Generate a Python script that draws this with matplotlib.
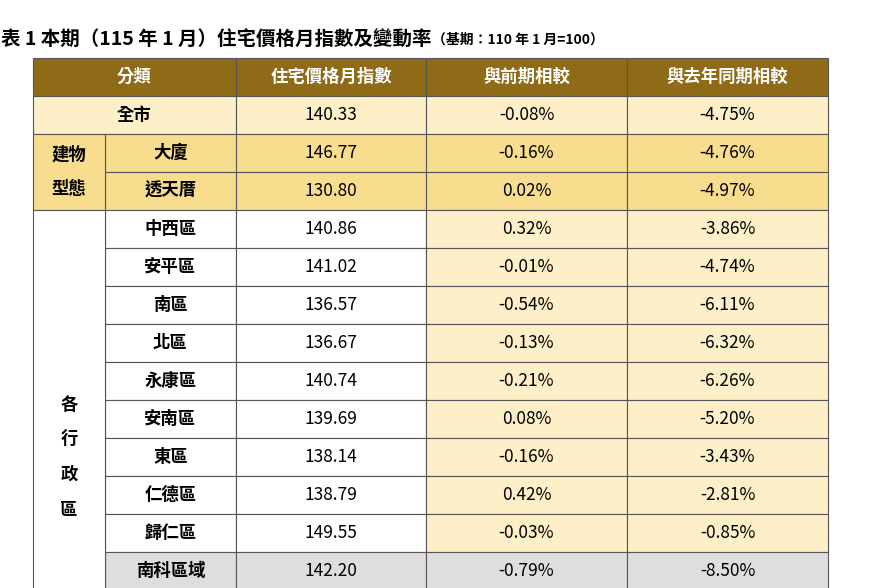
import matplotlib.pyplot as plt
from matplotlib.patches import Rectangle

plt.rcParams['font.family'] = ['Noto Sans CJK TC', 'DejaVu Sans']

title = "表 1 本期（115 年 1 月）住宅價格月指數及變動率"
title_note = "（基期：110 年 1 月=100）"
headers = ["分類", "住宅價格月指數", "與前期相較", "與去年同期相較"]
names = ["全市", "大廈", "透天厝", "中西區", "安平區", "南區", "北區", "永康區",
         "安南區", "東區", "仁德區", "歸仁區", "南科區域"]
index_vals = ["140.33", "146.77", "130.80", "140.86", "141.02", "136.57", "136.67",
              "140.74", "139.69", "138.14", "138.79", "149.55", "142.20"]
mom = ["-0.08%", "-0.16%", "0.02%", "0.32%", "-0.01%", "-0.54%", "-0.13%",
       "-0.21%", "0.08%", "-0.16%", "0.42%", "-0.03%", "-0.79%"]
yoy = ["-4.75%", "-4.76%", "-4.97%", "-3.86%", "-4.74%", "-6.11%", "-6.32%",
       "-6.26%", "-5.20%", "-3.43%", "-2.81%", "-0.85%", "-8.50%"]
groups = [("建物\n型態", 1, 3), ("各\n行\n政\n區", 3, 13)]

W, H = 870, 588
fig = plt.figure(figsize=(W / 100, H / 100), dpi=100)
ax = fig.add_axes([0, 0, 1, 1])
ax.set_xlim(0, W); ax.set_ylim(H, 0); ax.axis('off')

xs = [33, 105, 236, 426, 627, 828]
top, hh, rh = 58, 38, 38.0
HEAD = "#8f6a17"; CREAM = "#fdf0c8"; YEL = "#f8dd8f"; GRAY = "#dedede"
LINE = "#555555"

def cell(x0, x1, y0, y1, fc, text="", **kw):
    ax.add_patch(Rectangle((x0, y0), x1 - x0, y1 - y0, facecolor=fc,
                           edgecolor=LINE, lw=0.8))
    if text:
        ax.text((x0 + x1) / 2, (y0 + y1) / 2, text, ha='center', va='center',
                fontsize=12.5, **kw)

ax.text(432, 40, title, ha='right', va='center', fontsize=14, fontweight='bold')
ax.text(432, 40, title_note, ha='left', va='center', fontsize=10, fontweight='bold')

# header
cell(xs[0], xs[2], top, top + hh, HEAD, headers[0], color='white', fontweight='bold')
for j in range(1, 4):
    cell(xs[j + 1], xs[j + 2], top, top + hh, HEAD, headers[j], color='white', fontweight='bold')

y0 = top + hh
for i, name in enumerate(names):
    ya, yb = y0 + i * rh, y0 + (i + 1) * rh
    if i == 0:
        c_left, c_right = CREAM, CREAM
    elif i < 3:
        c_left, c_right = YEL, YEL
    elif i == len(names) - 1:
        c_left, c_right = GRAY, GRAY
    else:
        c_left, c_right = "white", CREAM
    if i == 0:
        cell(xs[0], xs[2], ya, yb, c_left, name, fontweight='bold')
    else:
        cell(xs[1], xs[2], ya, yb, c_left, name, fontweight='bold')
    cell(xs[2], xs[3], ya, yb, c_left, index_vals[i])
    cell(xs[3], xs[4], ya, yb, c_right, mom[i])
    cell(xs[4], xs[5], ya, yb, c_right, yoy[i])

# merged group cells on the left
for label, a, b in groups:
    fc = YEL if a == 1 else "white"
    ax.add_patch(Rectangle((xs[0], y0 + a * rh), xs[1] - xs[0], (b - a) * rh + 20,
                           facecolor=fc, edgecolor=LINE, lw=0.8) if b == 13 else
                 Rectangle((xs[0], y0 + a * rh), xs[1] - xs[0], (b - a) * rh,
                           facecolor=fc, edgecolor=LINE, lw=0.8))
    ymid = y0 + (a + b) / 2 * rh if a == 1 else y0 + 9.5 * rh
    ax.text((xs[0] + xs[1]) / 2, ymid, label, ha='center', va='center',
            fontsize=12.5, fontweight='bold', linespacing=2.2)

fig.savefig("out.png", dpi=100, facecolor='white')
